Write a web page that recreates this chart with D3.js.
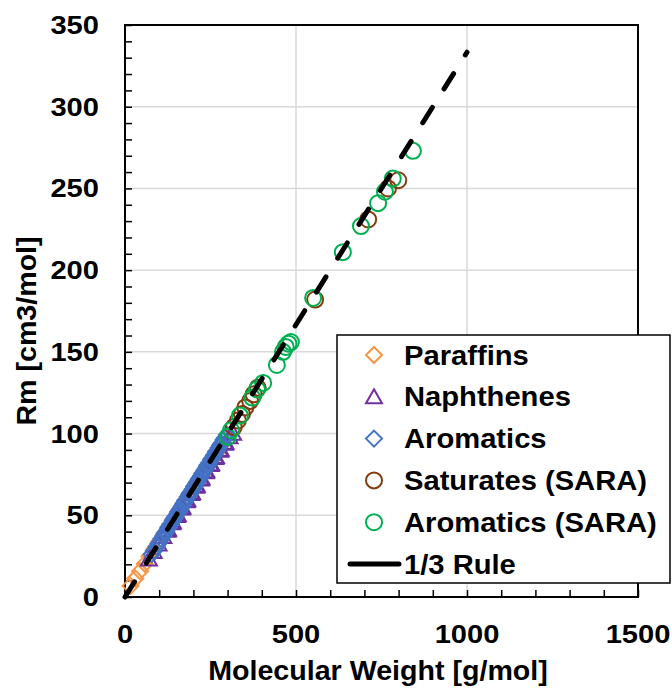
<!DOCTYPE html>
<html>
<head>
<meta charset="utf-8">
<script src="https://cdn.jsdelivr.net/npm/d3@7"></script>
<style>
  body { margin: 0; background: #fff; }
  svg { display: block; }
  text { font-family: "Liberation Sans", Arial, sans-serif; font-weight: bold; fill: #000; }
</style>
</head>
<body>
<svg id="chart" width="672" height="688"></svg>
<script>
// Molar refraction Rm [cm3/mol] against molecular weight [g/mol]

const paraffinsMW = [16, 30, 44, 58, 72, 86, 100, 114, 128, 142, 156, 170, 184, 198, 212, 226, 240, 254, 268, 282];
const paraffinsRm = [6.8, 11.3, 15.8, 20.3, 24.9, 29.4, 33.9, 38.5, 43.0, 47.6, 52.1, 56.7, 61.2, 65.8, 70.3, 74.9, 79.4, 84.0, 88.5, 93.1];

const naphthenesMW = [70, 84, 98, 112, 124, 126, 138, 140, 152, 154, 166, 168, 180, 182, 194, 196, 208, 210, 222, 224, 236, 238, 250, 252, 264, 266, 278, 280, 292, 294, 306, 316];
const naphthenesRm = [23.2, 27.8, 32.4, 37.0, 40.9, 41.5, 45.4, 46.0, 49.9, 50.5, 54.4, 55.0, 58.9, 59.5, 63.3, 63.9, 67.8, 68.4, 72.2, 72.8, 76.6, 77.2, 81.0, 81.6, 85.4, 86.0, 89.8, 90.4, 94.1, 94.7, 98.0, 100.2];

const aromaticsMW = [78, 84, 92, 98, 106, 112, 118, 120, 126, 128, 132, 134, 140, 142, 146, 148, 154, 156, 160, 162, 166, 170, 174, 176, 178, 184, 188, 190, 192, 198, 202, 204, 208, 212, 216, 218, 222, 226, 228, 232, 236, 240, 242, 246, 252, 254, 260, 266, 268, 274, 278, 282, 288, 292, 298];
const aromaticsRm = [26.2, 28.1, 30.8, 32.7, 35.5, 37.4, 39.3, 40.1, 42.0, 42.9, 44.0, 44.8, 46.6, 47.5, 48.6, 49.4, 51.3, 52.1, 53.3, 54.0, 55.3, 56.8, 58.0, 58.7, 59.5, 61.4, 62.6, 63.3, 64.1, 66.0, 67.4, 68.0, 69.4, 70.6, 72.0, 72.7, 74.0, 75.4, 76.1, 77.3, 78.6, 80.0, 80.7, 82.0, 84.0, 84.7, 86.7, 88.7, 89.4, 91.3, 92.7, 94.0, 96.0, 97.3, 99.3];

const saturatesSaraMW = [318, 330, 342, 352, 366, 376, 388, 556, 711, 769, 799];
const saturatesSaraRm = [104, 108, 112, 116, 120, 124, 128, 182, 231, 250, 255];

const aromaticsSaraMW = [300, 310, 336, 372, 386, 404, 444, 462, 470, 478, 485, 550, 637, 690, 740, 760, 783, 842];
const aromaticsSaraRm = [98, 102, 111, 122, 127, 131, 142, 150, 153, 155, 156, 183, 211, 227, 241, 248, 256, 273];

// 1/3 rule: Rm = MW / 3
const ruleMW = [0, 1000];
const ruleRm = [0, 333.33];

const xTicks = [0, 500, 1000, 1500];
const yTicks = [0, 50, 100, 150, 200, 250, 300, 350];
const xMinor = d3.range(0, 1501, 100);
const yMinor = d3.range(0, 351, 10);

const legendLabels = ["Paraffins", "Naphthenes", "Aromatics", "Saturates (SARA)", "Aromatics (SARA)", "1/3 Rule"];

const svg = d3.select("#chart");
const x = d3.scaleLinear().domain([0, 1500]).range([125, 638]);
const y = d3.scaleLinear().domain([0, 350]).range([597, 25]);

// gridlines
const grid = svg.append("g").attr("stroke", "#d9d9d9").attr("stroke-width", 1.5);
grid.selectAll(".gx").data(xTicks.slice(1, -1)).join("line")
  .attr("x1", d => x(d)).attr("x2", d => x(d)).attr("y1", y(0)).attr("y2", y(350));
grid.selectAll(".gy").data(yTicks.slice(1, -1)).join("line")
  .attr("x1", x(0)).attr("x2", x(1500)).attr("y1", d => y(d)).attr("y2", d => y(d));

// inward minor ticks
svg.append("g").attr("transform", `translate(0,${y(0)})`)
  .call(d3.axisBottom(x).tickValues(xMinor).tickSize(-7).tickFormat(""))
  .call(g => g.select(".domain").remove())
  .call(g => g.selectAll("line").attr("stroke", "#000").attr("stroke-width", 1.5));
svg.append("g").attr("transform", `translate(${x(0)},0)`)
  .call(d3.axisLeft(y).tickValues(yMinor).tickSize(-7).tickFormat(""))
  .call(g => g.select(".domain").remove())
  .call(g => g.selectAll("line").attr("stroke", "#000").attr("stroke-width", 1.5));

// plot frame
svg.append("rect")
  .attr("x", x(0)).attr("y", y(350))
  .attr("width", x(1500) - x(0)).attr("height", y(0) - y(350))
  .attr("fill", "none").attr("stroke", "#000").attr("stroke-width", 2);

// text helper: bold face, slightly widened
function wideText(parent, tx, ty, str, size, anchor, sx) {
  return parent.append("text")
    .attr("transform", `translate(${tx},${ty}) scale(${sx},1)`)
    .attr("text-anchor", anchor)
    .style("font-size", size + "px")
    .text(str);
}
xTicks.forEach(v => wideText(svg, x(v), 643, String(v), 26, "middle", 1.12));
yTicks.forEach(v => wideText(svg, 99, y(v) + 9, String(v), 26, "end", 1.12));

// axis titles
wideText(svg, 378, 680, "Molecular Weight [g/mol]", 27, "middle", 1.06);
svg.append("text")
  .attr("transform", `translate(36,331) rotate(-90) scale(1.06,1)`)
  .attr("text-anchor", "middle")
  .style("font-size", "27px")
  .text("Rm [cm3/mol]");

// marker shapes
const shapes = {
  diamond: "M0,-8L8,0L0,8L-8,0Z",
  triangle: "M0,-7.5L8,6.5L-8,6.5Z",
  circle: d3.symbol().type(d3.symbolCircle).size(Math.PI * 64)()
};

const series = [
  { mw: paraffinsMW, rm: paraffinsRm, shape: "diamond", color: "#f79646" },
  { mw: naphthenesMW, rm: naphthenesRm, shape: "triangle", color: "#7030a0" },
  { mw: aromaticsMW, rm: aromaticsRm, shape: "diamond", color: "#4472c4" },
  { mw: saturatesSaraMW, rm: saturatesSaraRm, shape: "circle", color: "#843c0c" },
  { mw: aromaticsSaraMW, rm: aromaticsSaraRm, shape: "circle", color: "#00b050" }
];

series.forEach(s => {
  svg.append("g").selectAll("path").data(s.mw.map((m, i) => [m, s.rm[i]])).join("path")
    .attr("transform", d => `translate(${x(d[0])},${y(d[1])})`)
    .attr("d", shapes[s.shape])
    .attr("fill", "none").attr("stroke", s.color).attr("stroke-width", 2);
});

// 1/3 rule line
const line = d3.line().x(d => x(d[0])).y(d => y(d[1]));
svg.append("path")
  .datum(ruleMW.map((m, i) => [m, ruleRm[i]]))
  .attr("d", line)
  .attr("fill", "none").attr("stroke", "#000").attr("stroke-width", 5)
  .attr("stroke-linecap", "round").attr("stroke-dasharray", "18,22");

// legend
const lg = svg.append("g");
lg.append("rect").attr("x", 337).attr("y", 335).attr("width", 333).attr("height", 248)
  .attr("fill", "#fff").attr("stroke", "#000").attr("stroke-width", 1.5);
legendLabels.forEach((lab, i) => {
  const cy = 355 + i * 41.8;
  if (i < series.length) {
    lg.append("path").attr("transform", `translate(374,${cy})`)
      .attr("d", shapes[series[i].shape])
      .attr("fill", "none").attr("stroke", series[i].color).attr("stroke-width", 2);
  } else {
    lg.append("line").attr("x1", 350).attr("x2", 399).attr("y1", cy).attr("y2", cy)
      .attr("stroke", "#000").attr("stroke-width", 5).attr("stroke-linecap", "round");
  }
  wideText(lg, 404, cy + 9.5, lab, 27, "start", 1.08);
});
</script>
</body>
</html>
